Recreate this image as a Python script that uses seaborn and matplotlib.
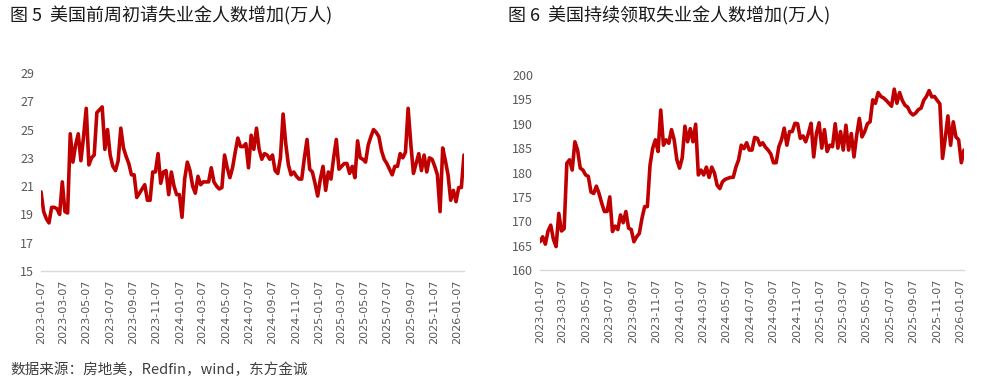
import matplotlib

matplotlib.use("Agg")
import matplotlib.pyplot as plt
import matplotlib.dates as mdates
import pandas as pd
import seaborn as sns

# weekly initial jobless claims, 10k persons
initial_claims = [
    20.6, 19.2, 18.7, 18.4, 19.5, 19.5, 19.4, 19.0, 21.3, 19.2,
    19.1, 24.7, 22.7, 23.9, 24.7, 22.8, 24.5, 26.5, 22.5, 23.0,
    23.2, 26.2, 26.4, 26.6, 23.6, 25.0, 23.2, 22.4, 22.1, 22.8,
    25.1, 23.7, 23.1, 22.6, 21.8, 21.8, 20.2, 20.5, 20.8, 21.1,
    20.0, 20.0, 22.0, 22.0, 23.3, 21.2, 22.0, 22.1, 20.4, 22.0,
    21.0, 20.4, 20.4, 18.8, 21.5, 22.7, 22.1, 21.0, 20.5, 21.7,
    21.1, 21.3, 21.3, 21.3, 22.3, 21.3, 21.0, 20.8, 20.9, 23.2,
    22.3, 21.6, 22.3, 23.4, 24.4, 23.8, 23.8, 24.0, 22.3, 24.6,
    23.6, 25.1, 23.6, 22.9, 23.3, 23.2, 22.9, 23.2, 22.1, 21.9,
    23.0, 26.1, 24.0, 22.5, 21.8, 22.0, 21.7, 21.5, 21.5, 23.0,
    24.3, 22.2, 22.0, 21.2, 20.3, 21.5, 22.4, 20.7, 22.0, 21.5,
    23.0, 24.3, 22.2, 22.4, 22.6, 22.6, 21.9, 22.4, 21.6, 24.2,
    23.0, 22.9, 22.7, 23.9, 24.5, 25.0, 24.8, 24.5, 23.5, 22.9,
    22.6, 22.2, 21.8, 22.4, 22.4, 23.3, 23.0, 23.4, 26.5, 24.0,
    21.9, 22.6, 23.3, 22.1, 23.2, 22.0, 23.0, 22.9, 22.4, 21.8,
    19.2, 23.7, 22.8, 21.8, 20.0, 20.7, 19.9, 20.9, 20.9, 23.2,
]

# weekly continuing claims, 10k persons
continuing_claims = [
    165.8, 166.8, 165.3, 168.0, 169.2, 166.3, 164.8, 171.6, 168.0, 168.5,
    181.9, 182.6, 180.5, 186.3, 184.6, 180.9, 180.5, 179.5, 179.2, 176.0,
    175.7, 177.2, 175.7, 173.7, 172.0, 172.0, 175.0, 167.9, 169.0, 168.3,
    171.3, 169.7, 172.0, 168.6, 168.3, 165.8, 166.8, 167.5, 170.6, 173.0,
    173.0, 181.5, 185.0, 186.7, 184.3, 192.8, 185.6, 186.7, 186.0, 188.8,
    186.7, 182.6, 180.9, 183.0, 189.5, 186.3, 189.0, 186.3, 189.9, 179.5,
    180.5, 179.5, 181.1, 179.0, 181.1, 179.9, 177.4, 176.7, 178.1, 178.6,
    178.8, 179.0, 179.0, 181.1, 182.6, 185.6, 184.9, 186.1, 184.6, 184.6,
    187.2, 187.0, 185.6, 186.1, 185.2, 184.6, 183.8, 182.0, 182.0, 185.3,
    186.7, 189.1, 185.6, 188.4, 188.4, 190.1, 190.0, 187.0, 187.5, 186.3,
    188.0, 190.1, 183.2, 188.0, 190.2, 185.0, 188.8, 184.3, 185.6, 185.3,
    190.0, 185.0, 188.4, 184.6, 189.7, 184.6, 188.0, 183.2, 187.6, 191.1,
    187.3, 188.4, 190.0, 190.4, 194.9, 194.2, 196.4, 195.6, 195.3, 194.8,
    194.2, 193.6, 197.1, 194.2, 196.4, 194.8, 193.8, 193.4, 192.3, 191.8,
    192.2, 192.9, 193.2, 194.8, 195.6, 196.8, 195.5, 195.6, 194.8, 194.1,
    182.9, 187.0, 191.6, 185.6, 190.4, 187.3, 186.7, 182.0, 184.6,
]

tick_labels = [
    "2023-01-07", "2023-03-07", "2023-05-07", "2023-07-07", "2023-09-07",
    "2023-11-07", "2024-01-07", "2024-03-07", "2024-05-07", "2024-07-07",
    "2024-09-07", "2024-11-07", "2025-01-07", "2025-03-07", "2025-05-07",
    "2025-07-07", "2025-09-07", "2025-11-07", "2026-01-07",
]

titles = [
    "图 5  美国前周初请失业金人数增加(万人)",
    "图 6  美国持续领取失业金人数增加(万人)",
]
source_note = "数据来源：房地美，Redfin，wind，东方金诚"

LINE_COLOR = "#C00000"
TEXT_GRAY = "#595959"

sns.set_style("white")
plt.rcParams["font.family"] = ["Noto Sans CJK SC", "DejaVu Sans"]

initial_df = pd.DataFrame({
    "date": pd.date_range("2023-01-07", periods=len(initial_claims), freq="7D"),
    "value": initial_claims,
})
continuing_df = pd.DataFrame({
    "date": pd.date_range("2023-01-07", periods=len(continuing_claims), freq="7D"),
    "value": continuing_claims,
})

W, H = 995, 384
fig = plt.figure(figsize=(W / 100, H / 100), dpi=100)

panels = [
    (initial_df, (41, 73, 464, 271), (15, 29), list(range(15, 30, 2))),
    (continuing_df, (540, 75, 964, 270), (160, 200), list(range(160, 201, 5))),
]
tick_dates = pd.to_datetime(tick_labels)

for df, (x0, y0, x1, y1), ylim, yticks in panels:
    ax = fig.add_axes([x0 / W, 1 - y1 / H, (x1 - x0) / W, (y1 - y0) / H])
    sns.lineplot(data=df, x="date", y="value", ax=ax, color=LINE_COLOR, linewidth=2.6)
    ax.set_xlim(df["date"].iloc[0], df["date"].iloc[-1])
    ax.set_ylim(*ylim)
    ax.set_yticks(yticks)
    ax.set_xticks(tick_dates)
    ax.xaxis.set_major_formatter(mdates.DateFormatter("%Y-%m-%d"))
    ax.set_xlabel("")
    ax.set_ylabel("")
    for side in ["left", "right", "top"]:
        ax.spines[side].set_visible(False)
    ax.spines["bottom"].set_color("#d9d9d9")
    ax.spines["bottom"].set_linewidth(1.0)
    ax.tick_params(axis="y", length=0, pad=5, labelsize=9, labelcolor=TEXT_GRAY)
    ax.tick_params(axis="x", length=4, width=0.8, color="#d9d9d9", pad=2,
                   labelsize=8, labelcolor=TEXT_GRAY, rotation=90)
    for lab in ax.get_xticklabels():
        lab.set_family(["DejaVu Sans"])

fig.text(10 / W, 1 - 16 / H, titles[0], fontsize=13, va="center", ha="left", color="#1a1a1a")
fig.text(508 / W, 1 - 16 / H, titles[1], fontsize=13, va="center", ha="left", color="#1a1a1a")
fig.text(10 / W, 1 - 370 / H, source_note, fontsize=10.5, va="center", ha="left", color="#404040")

fig.savefig("out.png", dpi=100)
